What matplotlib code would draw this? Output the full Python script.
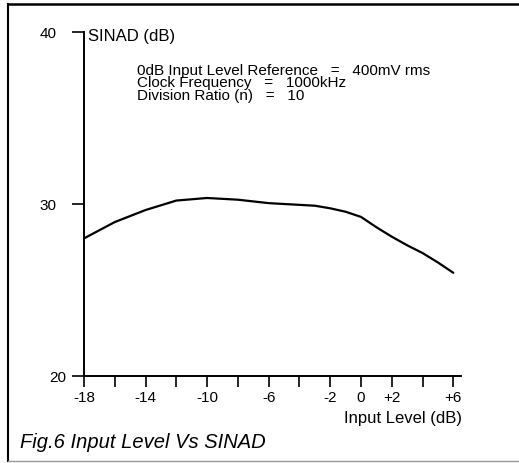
import matplotlib
matplotlib.use("Agg")
import matplotlib.pyplot as plt
import matplotlib.transforms as mtransforms
from matplotlib.lines import Line2D

# SINAD vs input level
input_db = [-18, -16, -14, -12, -10, -8, -6, -4, -3, -2, -1, 0, 1, 2, 3, 4, 5, 6]
sinad_db = [28.0, 28.95, 29.65, 30.2, 30.35, 30.25, 30.05, 29.95, 29.9, 29.75,
            29.55, 29.25, 28.65, 28.1, 27.6, 27.15, 26.6, 26.0]

x_ticks = list(range(-18, 7, 2))
x_labels = {-18: "-18", -14: "-14", -10: "-10", -6: "-6", -2: "-2",
            0: "0", 2: "+2", 6: "+6"}
y_ticks = [20, 30, 40]

notes = ["0dB Input Level Reference   =   400mV rms",
         "Clock Frequency   =   1000kHz",
         "Division Ratio (n)   =   10"]

plt.rcParams["font.family"] = ["Liberation Sans", "DejaVu Sans"]

W, H = 519, 463
fig = plt.figure(figsize=(W / 100, H / 100), dpi=100)
ax = fig.add_axes([84 / W, 1 - 376 / H, (461 - 84) / W, (376 - 32) / H])

ax.plot(input_db, sinad_db, color="black", lw=1.6, solid_capstyle="round")

ax.set_xlim(-18, 6.5)
ax.set_ylim(20, 40)
for s in ("top", "right"):
    ax.spines[s].set_visible(False)
for s in ("left", "bottom"):
    ax.spines[s].set_linewidth(1.4)

ax.set_xticks(x_ticks)
ax.set_xticklabels([x_labels.get(v, "") for v in x_ticks])
ax.set_yticks(y_ticks)
ax.set_yticklabels([str(v) for v in y_ticks])
ax.tick_params(axis="x", direction="out", length=8, width=1.2, pad=2.5,
               labelsize=11)
ax.tick_params(axis="y", direction="out", length=9, width=1.2, pad=10.5,
               labelsize=11)
# the "20" label sits closer to the axis in the original
shift = mtransforms.ScaledTranslation(9 / 100, 0, fig.dpi_scale_trans)
ylabs = ax.get_yticklabels()
ylabs[0].set_transform(ylabs[0].get_transform() + shift)

# axis titles
fig.text(88 / W, 1 - 37 / H, "SINAD (dB)", ha="left", va="center", fontsize=12)
fig.text(462 / W, 1 - 418 / H, "Input Level (dB)", ha="right", va="center",
         fontsize=12)

# conditions block, tightly set as in the original
fig.text(137 / W, 1 - 64 / H, "\n".join(notes), ha="left", va="top",
         fontsize=11, linespacing=0.85)

# caption
fig.text(20 / W, 1 - 443 / H, "Fig.6 Input Level Vs SINAD", ha="left",
         va="center", fontsize=14.5, style="italic")

# frame round the figure (left, top dark; bottom light)
fig.add_artist(Line2D([8 / W, 8 / W], [1 - 4 / H, 1 - 461 / H],
                      color="black", lw=1.5, transform=fig.transFigure))
fig.add_artist(Line2D([8 / W, 1.0], [1 - 4 / H, 1 - 4 / H],
                      color="black", lw=1.8, transform=fig.transFigure))
fig.add_artist(Line2D([8 / W, 1.0], [1 - 461 / H, 1 - 461 / H],
                      color="#999999", lw=1.0, transform=fig.transFigure))

fig.savefig("out.png", dpi=100)
